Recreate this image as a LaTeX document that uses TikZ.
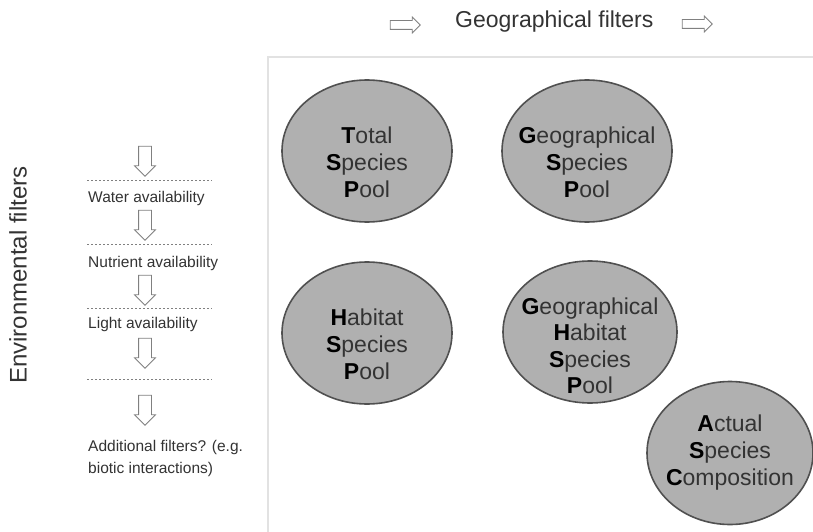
\documentclass[tikz,border=0pt]{standalone}
\usepackage{fontspec}
\setmainfont{Liberation Sans}
\usetikzlibrary{shapes.geometric,shapes.arrows}
\definecolor{poolgray}{HTML}{B0B0B0}
\definecolor{rimgray}{HTML}{505050}
\definecolor{inkgray}{HTML}{333333}
\definecolor{framegray}{HTML}{E2E2E2}
\tikzset{
  pool/.style={ellipse,draw=rimgray,line width=1.6pt,fill=poolgray,
    minimum width=170pt,minimum height=142pt,inner sep=0pt},
  poollabel/.style={align=center,text=inkgray,
    font=\fontsize{23}{27}\selectfont},
  filterarrow/.style={single arrow,draw=gray,fill=white,line width=0.8pt,
    rotate=-90,minimum height=30pt,inner xsep=0pt,inner ysep=6pt,
    single arrow head extend=4pt},
  geoarrow/.style={single arrow,draw=gray,fill=white,line width=0.8pt,
    minimum height=30pt,inner xsep=0pt,inner ysep=4pt,
    single arrow head extend=3.5pt},
  sieve/.style={draw=gray,line width=0.8pt,dash pattern=on 2pt off 2pt},
  filtertext/.style={anchor=base west,inner sep=0pt,text=inkgray,
    font=\fontsize{15.5}{19}\selectfont}
}
\newcommand{\initial}[1]{\textcolor{black}{\textbf{#1}}}
\begin{document}
\begin{tikzpicture}[x=1pt,y=-1pt]
    \useasboundingbox (0,0) rectangle (813,532);
    %% frame of the pools
    \draw[framegray,line width=2pt] (268,532) -- (268,57) -- (813,57);
    %% geographical filters
    \node[anchor=base west,inner sep=0pt,text=inkgray,
      font=\fontsize{23}{27}\selectfont] (geo) at (455,28) {Geographical filters};
    \node[geoarrow] (geoin) at (403,25) {};
    \node[geoarrow] (geoout) at (695,24) {};
    %% environmental filters
    \node[rotate=90,text=inkgray,font=\fontsize{24}{28}\selectfont]
      (env) at (18,275) {Environmental filters};
    \foreach \y [count=\i] in {158,222,287,350,407}
        \node[filterarrow] (down\i) at (145,\y) {};
    \foreach \y [count=\i] in {180,244,308,379}
        \draw[sieve] (87,\y) coordinate (sieveL\i) -- (212,\y) coordinate (sieveR\i);
    \node[filtertext] (water) at (88,202) {Water availability};
    \node[filtertext] (nutrient) at (88,267) {Nutrient availability};
    \node[filtertext] (light) at (88,328) {Light availability};
    \node[filtertext] (extra) at (88,451) {Additional filters? (e.g.};
    \node[filtertext] (biotic) at (88,473) {biotic interactions)};
    %% species pools
    \node[pool] (tsp) at (367,151) {};
    \node[poollabel] (tsptext) at ([yshift=-11pt]tsp.center)
      {\initial{T}otal\\\initial{S}pecies\\\initial{P}ool};
    \node[pool] (gsp) at (587,151) {};
    \node[poollabel] (gsptext) at ([yshift=-11pt]gsp.center)
      {\initial{G}eographical\\\initial{S}pecies\\\initial{P}ool};
    \node[pool] (hsp) at (367,333) {};
    \node[poollabel] (hsptext) at ([yshift=-11pt]hsp.center)
      {\initial{H}abitat\\\initial{S}pecies\\\initial{P}ool};
    \node[pool,minimum width=174pt] (ghsp) at (590,332) {};
    \node[poollabel,font=\fontsize{23}{26.5}\selectfont] (ghsptext) at ([yshift=-14pt]ghsp.center)
      {\initial{G}eographical\\\initial{H}abitat\\\initial{S}pecies\\\initial{P}ool};
    \node[pool,minimum width=166pt,minimum height=143pt] (asc) at (730,453) {};
    \node[poollabel] (asctext) at (asc.center)
      {\initial{A}ctual\\\initial{S}pecies\\\initial{C}omposition};
\end{tikzpicture}
\end{document}
